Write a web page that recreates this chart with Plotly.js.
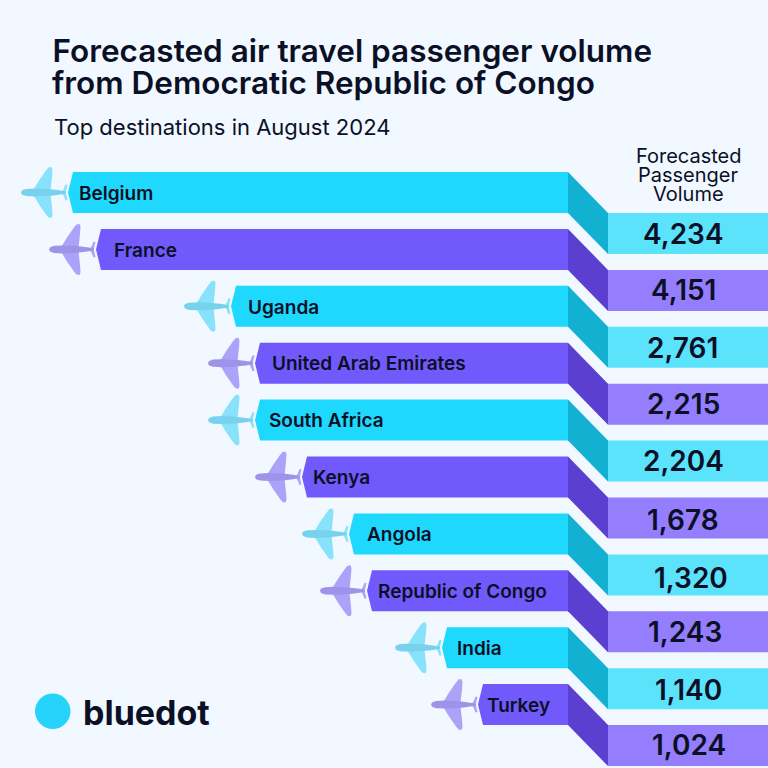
<!DOCTYPE html>
<html>
<head>
<meta charset="utf-8">
<script src="https://cdn.plot.ly/plotly-3.0.1.min.js"></script>
<style>html,body{margin:0;padding:0;background:#f1f8ff}</style>
</head>
<body>
<div id="chart" style="width:768px;height:768px"></div>
<script>
// ---- data ----
const destinations = ["Belgium","France","Uganda","United Arab Emirates","South Africa","Kenya","Angola","Republic of Congo","India","Turkey"];
const passengerVolume = [4234,4151,2761,2215,2204,1678,1320,1243,1140,1024];
// the original's ribbons are not proportional to the values, so their drawn length is read separately
const ribbonLength = [495,467,332,308,308,261,214,196,121,85];

const titleLines = ["Forecasted air travel passenger volume","from Democratic Republic of Congo"];
const subtitle = "Top destinations in August 2024";
const headerLines = ["Forecasted","Passenger","Volume"];
const brand = "bluedot";

// ---- styling and geometry ----
const BG = "#f1f8ff", INK = "#0b1026", FONT = "Inter, 'Noto Sans', sans-serif";
const palette = [
  {bar:"#1fd8fd", fold:"#12b1d2", band:"#5be3fb", wing:"#88e2fb", body:"#78d2ee"},
  {bar:"#7259fb", fold:"#5a3fd0", band:"#947efd", wing:"#ada2f9", body:"#9e93e8"}
];
const colorOf = i => palette[i % 2];
const rows = destinations.map((_, i) => i);
const ROW_PX = 56.9, Y0_PX = 192.5, END_PX = 568, THICK_PX = 41;
const unit = px => px / ROW_PX;
const half = unit(THICK_PX) / 2, drop = unit(THICK_PX);
const FOLD = 40, BAND = 160, CAP = 5;
const labelInset = [5,12,11,11,8,5,12,5,9,3];
const labelDrop = 0.7;
const valueNudgeX = [0,0,-1,0,0,0,8,2,5,6];
const valueNudgeY = [0,0,1,0,0,2,3,0,1,-1];
const VALUE_CX = 683;

const paperX = px => px / 768, paperY = px => 1 - px / 768;

// ---- traces ----
const traces = [];
traces.push({type:"bar", orientation:"h", y:rows, x:ribbonLength, width:unit(THICK_PX),
  marker:{color:rows.map(i => colorOf(i).bar), line:{width:0}}, hoverinfo:"skip", showlegend:false});
traces.push({type:"bar", orientation:"h", y:rows.map(i => i + drop), x:rows.map(() => -BAND), base:rows.map(() => -FOLD),
  width:unit(THICK_PX), marker:{color:rows.map(i => colorOf(i).band), line:{width:0}}, hoverinfo:"skip", showlegend:false});
rows.forEach(i => {
  traces.push({type:"scatter", mode:"lines", fill:"toself", fillcolor:colorOf(i).fold, line:{width:0}, hoverinfo:"skip", showlegend:false,
    x:[0,-FOLD,-FOLD,0,0], y:[i-half, i-half+drop, i+half+drop, i+half, i-half]});
  const L = ribbonLength[i];
  traces.push({type:"scatter", mode:"lines", fill:"toself", fillcolor:colorOf(i).bar, line:{width:0}, hoverinfo:"skip", showlegend:false,
    x:[L,L+CAP,L,L], y:[i-half,i,i+half,i-half]});
});

// ---- plane silhouettes placed from each ribbon's tip ----
function planeShapes(i) {
  const tipX = ribbonLength[i] + CAP + 1; // data units = px, axis reversed
  const P = (u, v) => (tipX + 46 - u) + "," + (i + unit(v));
  const path = pts => "M" + pts.map(p => P(p[0], p[1])).join(" L") + " Z";
  const wing = s => [[12,-2*s],[18,-12*s],[25,-22*s],[27.5,-25*s],[30.5,-25.5*s],[31.5,-23*s],[31,-15*s],[30.5,-11*s],[30,-6*s],[29.5,-2*s]];
  const tail = [[40,0],[42.5,-3],[44.5,-8],[46.5,-7.5],[45,-1.5],[45,1.5],[46.5,7.5],[44.5,8],[42.5,3]];
  const body = [[0,0],[1,-2.2],[5,-3.6],[14,-4],[28,-3.4],[38,-2.2],[45,-0.9],[45,0.9],[38,2.2],[28,3.4],[14,4],[5,3.6],[1,2.2]];
  const mk = (pts, c) => ({type:"path", xref:"x", yref:"y", layer:"above", path:path(pts), fillcolor:c, line:{width:0}});
  const c = colorOf(i);
  return [mk(wing(1), c.wing), mk(wing(-1), c.wing), mk(tail, c.wing), mk(body, c.body)];
}
const shapes = rows.flatMap(planeShapes);
shapes.push({type:"circle", xref:"paper", yref:"paper", x0:paperX(35), x1:paperX(70.5), y0:paperY(729), y1:paperY(693.5), fillcolor:"#26d3fb", line:{width:0}});

// ---- text ----
const annotations = [];
const note = (text, xpx, ypx, size, weight, anchor) => annotations.push({text, xref:"paper", yref:"paper", x:paperX(xpx), y:paperY(ypx),
  xanchor:anchor, yanchor:"middle", showarrow:false, borderpad:0, font:{family:FONT, size, weight, color:INK}});
note(titleLines[1], 51, 82, 31.5, 600, "left");
note(subtitle, 53, 127, 22, 400, "left");
headerLines.forEach((t, k) => note(t, 688.5, 155.5 + k * 19.3, 20, 400, "center"));
note(brand, 82, 712, 34, 700, "left");
rows.forEach(i => {
  annotations.push({text:destinations[i], xref:"x", yref:"y", x:ribbonLength[i] - labelInset[i], y:i + unit(labelDrop),
    xanchor:"left", yanchor:"middle", showarrow:false, borderpad:0, font:{family:FONT, size:19, weight:600, color:INK}});
  annotations.push({text:passengerVolume[i].toLocaleString("en-US"), xref:"paper", yref:"y", x:paperX(VALUE_CX + valueNudgeX[i]), y:i + drop + unit(valueNudgeY[i]),
    xanchor:"center", yanchor:"middle", showarrow:false, borderpad:0, font:{family:FONT, size:28, weight:600, color:INK}});
});

const layout = {
  width:768, height:768, margin:{l:0,r:0,t:0,b:0}, paper_bgcolor:BG, plot_bgcolor:BG, showlegend:false, barmode:"overlay", hovermode:false,
  title:{text:titleLines[0], x:paperX(52.5), xref:"paper", xanchor:"left", y:paperY(51), yref:"paper", yanchor:"middle", pad:{l:0,t:0,r:0,b:0},
         font:{family:FONT, size:31.5, weight:600, color:INK}},
  xaxis:{visible:false, range:[END_PX, END_PX-768], fixedrange:true},
  yaxis:{visible:false, range:[(768-Y0_PX)/ROW_PX, -Y0_PX/ROW_PX], fixedrange:true},
  shapes, annotations
};
Plotly.newPlot("chart", traces, layout, {displayModeBar:false, staticPlot:true});
</script>
</body>
</html>
